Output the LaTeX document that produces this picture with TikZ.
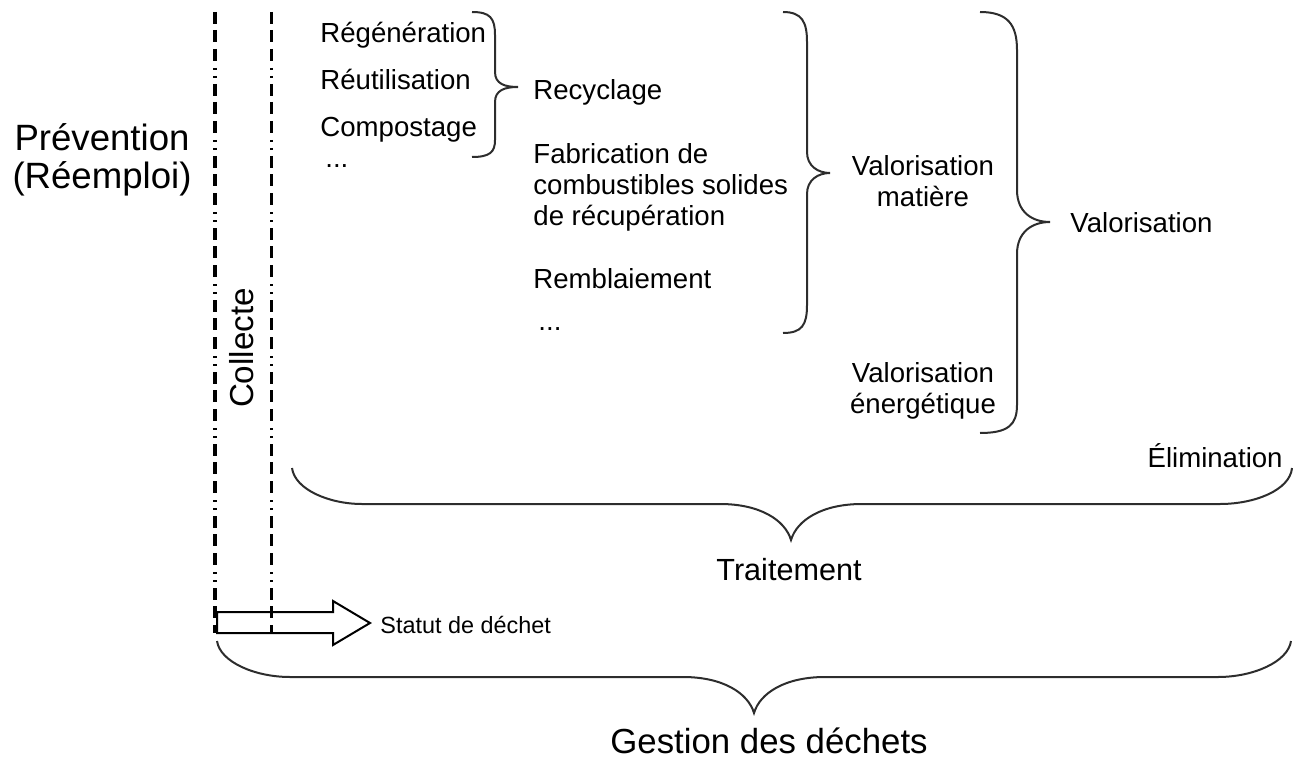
\documentclass[tikz,border=0pt]{standalone}
\usepackage{fontspec}
\setmainfont{Liberation Sans}
\definecolor{bracegray}{RGB}{45,45,45}

\tikzset{
	lbl/.style={font=\fontsize{13.8}{15.5}\selectfont,inner sep=0pt},
	brc/.style={draw=bracegray,line width=1pt},
	dashdot2/.style={dash pattern=on 6pt off 3pt on 6pt off 3.5pt on 6pt off 3.5pt on 1pt off 3pt on 1pt off 3pt}
}

\begin{document}
\begin{tikzpicture}[x=0.5pt,y=-0.5pt]
\useasboundingbox (0,0) rectangle (1301,765);

% left column
\node (prev) at (102,160) [inner sep=0pt,align=center,font=\fontsize{18.3}{19}\selectfont] {Prévention\\(Réemploi)};
\coordinate (c1top) at (215,12);
\coordinate (c1bot) at (215,633);
\coordinate (c2top) at (271,12);
\coordinate (c2bot) at (271,632);
\draw[dashdot2,line width=2pt] (c1top) -- (c1bot);
\draw[dashdot2,line width=1.5pt] (c2top) -- (c2bot);
\node (coll) at (242,348) [inner sep=0pt,rotate=90,font=\fontsize{16.6}{18}\selectfont] {Collecte};

% statut
\draw[line width=1pt] (217,612) -- (333,612) -- (333,601) -- (370,623) -- (333,645) -- (333,633) -- (217,633) -- cycle;
\node (stat) at (380,633) [anchor=base west,inner sep=0pt,font=\fontsize{11.7}{13}\selectfont] {Statut de déchet};

% recyclage
\node (regen) at (320,43) [lbl,anchor=base west] {Régénération};
\node (reut) at (320,90) [lbl,anchor=base west] {Réutilisation};
\node (comp) at (320,137) [lbl,anchor=base west] {Compostage};
\node (dots1) at (325,168) [lbl,anchor=base west] {...};
\draw[brc] (472,12) .. controls (490,12) and (495,18) .. (495,35) -- (495,72) .. controls (495,84) and (505,87) .. (518,87) .. controls (505,87) and (495,90) .. (495,102) -- (495,140) .. controls (495,152) and (490,157) .. (472,157);
\node (recy) at (533,100) [lbl,anchor=base west] {Recyclage};
\node (fabr) at (533,187) [lbl,anchor=west,align=left] {Fabrication de\\combustibles solides\\de récupération};
\node (remb) at (533,288) [lbl,anchor=base west] {Remblaiement};
\node (dots2) at (538,330) [lbl,anchor=base west] {...};

% valorisation
\draw[brc] (783,12) .. controls (802,12) and (807,22) .. (807,42) -- (807,152) .. controls (807,166) and (818,173) .. (830,173) .. controls (818,173) and (807,180) .. (807,194) -- (807,305) .. controls (807,325) and (802,333) .. (783,333);
\node (vmat) at (923,181) [lbl,align=center] {Valorisation\\matière};
\node (vene) at (923,391) [lbl,align=center] {Valorisation\\énergétique};
\draw[brc] (980,12) .. controls (1008,12) and (1017,25) .. (1017,50) -- (1017,190) .. controls (1017,212) and (1032,222) .. (1050,222) .. controls (1032,222) and (1017,232) .. (1017,254) -- (1017,405) .. controls (1017,425) and (1008,433) .. (980,433);
\node (valo) at (1070,232) [lbl,anchor=base west] {Valorisation};
\node (elim) at (1283,467) [lbl,anchor=base east] {Élimination};

% traitement, gestion
\draw[brc] (292,468) .. controls (295,490) and (330,504) .. (362,504) -- (720,504) .. controls (760,504) and (785,520) .. (791,540) .. controls (797,520) and (822,504) .. (862,504) -- (1220,504) .. controls (1255,504) and (1290,490) .. (1292,468);
\node (trait) at (789,580) [anchor=base,inner sep=0pt,font=\fontsize{15.3}{17}\selectfont] {Traitement};
\draw[brc] (217,641) .. controls (220,662) and (255,677) .. (290,677) -- (683,677) .. controls (723,677) and (748,693) .. (754,713) .. controls (760,693) and (785,677) .. (825,677) -- (1218,677) .. controls (1253,677) and (1288,662) .. (1291,641);
\node (gest) at (769,753) [anchor=base,inner sep=0pt,font=\fontsize{17.4}{19}\selectfont] {Gestion des déchets};
\end{tikzpicture}
\end{document}
